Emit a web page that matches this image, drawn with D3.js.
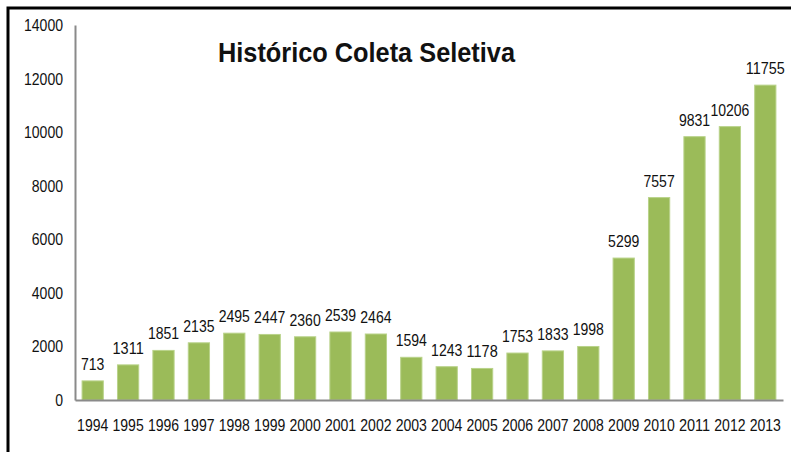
<!DOCTYPE html>
<html lang="pt">
<head>
    <meta charset="UTF-8">
    <title>Histórico Coleta Seletiva</title>
    <script src="https://d3js.org/d3.v7.min.js"></script>
    <style>
        body { margin: 0; background: #fff; }
        svg { display: block; }
        text { font-family: "Liberation Sans Narrow", "Arial Narrow", "Liberation Sans", Arial, sans-serif; fill: #111; }
    </style>
</head>
<body>
    <svg width="791" height="452"></svg>
    <script>
        // Data
        var years = ["1994","1995","1996","1997","1998","1999","2000","2001","2002","2003",
                     "2004","2005","2006","2007","2008","2009","2010","2011","2012","2013"];
        var values = [713, 1311, 1851, 2135, 2495, 2447, 2360, 2539, 2464, 1594,
                      1243, 1178, 1753, 1833, 1998, 5299, 7557, 9831, 10206, 11755];
        var yTicks = [0, 2000, 4000, 6000, 8000, 10000, 12000, 14000];

        var svg = d3.select("svg");
        var font = "'Liberation Sans Narrow', 'Arial Narrow', 'Liberation Sans', sans-serif";
        var digitW = 7.8; // narrow digits like the original

        // squeeze a text to a narrow width
        function narrow(sel) {
            sel.attr("textLength", function() { return this.textContent.length * digitW; })
               .attr("lengthAdjust", "spacingAndGlyphs");
        }

        // frame
        svg.append("rect")
            .attr("x", 8).attr("y", 8)
            .attr("width", 800).attr("height", 500)
            .attr("fill", "none")
            .attr("stroke", "#000")
            .attr("stroke-width", 3);

        var plotLeft = 75, plotRight = 783, plotTop = 25, plotBottom = 400;

        var x = d3.scaleBand()
            .domain(years)
            .range([plotLeft, plotRight])
            .paddingInner(0.4)
            .paddingOuter(0.2);

        var y = d3.scaleLinear()
            .domain([0, 14000])
            .range([plotBottom, plotTop]);

        // bars
        svg.selectAll("rect.bar")
            .data(values)
            .enter()
            .append("rect")
            .attr("class", "bar")
            .attr("x", function(d, i) { return x(years[i]); })
            .attr("y", function(d) { return y(d); })
            .attr("width", x.bandwidth())
            .attr("height", function(d) { return y(0) - y(d); })
            .attr("fill", "#9bbb59")
            .attr("stroke", "#b9d38a")
            .attr("stroke-width", 1);

        // value labels
        svg.selectAll("text.val")
            .data(values)
            .enter()
            .append("text")
            .attr("class", "val")
            .attr("x", function(d, i) { return x(years[i]) + x.bandwidth() / 2; })
            .attr("y", function(d) { return y(d) - 11; })
            .attr("text-anchor", "middle")
            .attr("font-size", 17)
            .text(function(d) { return d; })
            .call(narrow);

        // y axis
        var yAxis = svg.append("g")
            .attr("transform", "translate(" + plotLeft + ",0)")
            .call(d3.axisLeft(y).tickValues(yTicks).tickFormat(d3.format("d")).tickSize(0).tickPadding(12));
        yAxis.select(".domain").attr("stroke", "#8a8a8a").attr("stroke-width", 2);
        yAxis.selectAll("text").attr("font-size", 17)
            .attr("font-family", font)
            .attr("fill", "#111")
            .call(narrow);

        // x axis
        var xAxis = svg.append("g")
            .attr("transform", "translate(0," + plotBottom + ")")
            .call(d3.axisBottom(x).tickSize(0).tickPadding(19));
        xAxis.select(".domain").attr("stroke", "#8a8a8a").attr("stroke-width", 2);
        xAxis.selectAll("text").attr("font-size", 17)
            .attr("font-family", font)
            .attr("fill", "#111")
            .call(narrow);

        // title
        svg.append("text")
            .attr("x", 218)
            .attr("y", 62)
            .attr("font-size", 28)
            .attr("font-weight", "bold")
            .attr("textLength", 297)
            .attr("lengthAdjust", "spacingAndGlyphs")
            .attr("fill", "#000")
            .text("Histórico Coleta Seletiva");
    </script>
</body>
</html>
